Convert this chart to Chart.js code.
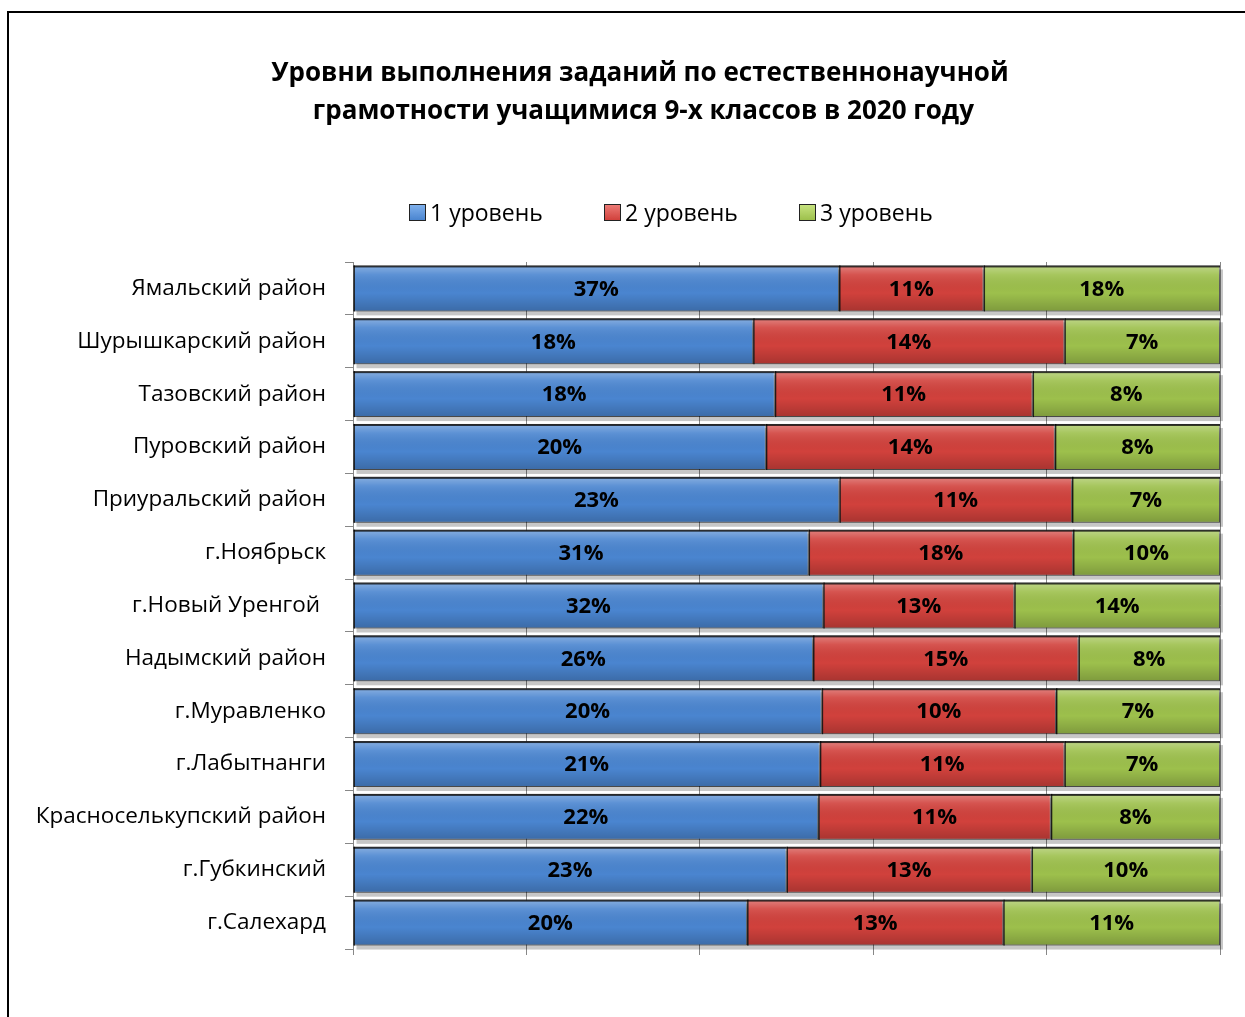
<!DOCTYPE html>
<html lang="ru">
<head>
<meta charset="utf-8">
<title>Уровни выполнения заданий</title>
<script src="https://cdn.jsdelivr.net/npm/chart.js@4.4.1/dist/chart.umd.min.js"></script>
<style>
  body { margin: 0; background: #fff; overflow: hidden; }
  #frame { position: absolute; left: 7px; top: 11px; width: 1300px; height: 1100px; border: 2px solid #000; }
  #box { position: absolute; left: 0; top: 0; width: 1280px; height: 1017px; }
  #title { position: absolute; left: 0; top: 52px; width: 1280px; text-align: center;
           font: bold 26px/38px "Open Sans", sans-serif; color: #000; white-space: pre; }
  #legend { position: absolute; top: 196px; left: 409px; display: flex; font: 23px "Open Sans", sans-serif; color: #000; }
  .item { width: 195px; display: flex; align-items: center; }
  .swatch { width: 15px; height: 15px; border: 1px solid #222; margin-right: 4px; }
</style>
</head>
<body>
<div id="frame"></div>
<div id="box"><canvas id="myChart"></canvas></div>
<div id="title"></div>
<div id="legend"></div>
<script>
'use strict';

let regions = ['Ямальский район', 'Шурышкарский район', 'Тазовский район', 'Пуровский район',
  'Приуральский район', 'г.Ноябрьск', 'г.Новый Уренгой ', 'Надымский район', 'г.Муравленко',
  'г.Лабытнанги', 'Красноселькупский район', 'г.Губкинский', 'г.Салехард'];
let level1 = [37, 18, 18, 20, 23, 31, 32, 26, 20, 21, 22, 23, 20];
let level2 = [11, 14, 11, 14, 11, 18, 13, 15, 10, 11, 11, 13, 13];
let level3 = [18, 7, 8, 8, 7, 10, 14, 8, 7, 7, 8, 10, 11];
let seriesNames = ['1 уровень', '2 уровень', '3 уровень'];
let seriesColors = ['#4a85d0', '#d1413c', '#9dc04c'];
let seriesLight = ['#7fb0ec', '#ec7a75', '#c6e27e'];
let titleLines = ['Уровни выполнения заданий по естественнонаучной', ' грамотности учащимися 9-х классов в 2020 году'];

let FONT = '"Open Sans", sans-serif';
let levels = [level1, level2, level3];

// 100% stacked: every row is scaled to its own total
function shares(values, i){
  let total = level1[i] + level2[i] + level3[i];
  return values[i] / total * 100;
}

let datasets = levels.map(function(values, k){
  return {
    label: seriesNames[k],
    data: values.map(function(v, i){ return shares(values, i); }),
    raw: values,
    backgroundColor: seriesColors[k],
    borderColor: 'rgba(0,0,0,0.55)',
    borderWidth: 1,
    borderSkipped: false,
    barPercentage: 0.87,
    categoryPercentage: 1
  };
});

document.getElementById('title').textContent = titleLines.join('\n');

// html legend
let legend = document.getElementById('legend');
for (let k = 0; k < seriesNames.length; k++){
  let item = document.createElement('div');
  item.className = 'item';
  let sw = document.createElement('span');
  sw.className = 'swatch';
  sw.style.background = 'linear-gradient(' + seriesLight[k] + ', ' + seriesColors[k] + ')';
  item.appendChild(sw);
  item.appendChild(document.createTextNode(seriesNames[k]));
  legend.appendChild(item);
}

// gray depth under each row
let shadowPlugin = {
  id: 'shadow',
  beforeDatasetsDraw(chart){
    let ctx = chart.ctx;
    let metas = chart.getSortedVisibleDatasetMetas();
    ctx.save();
    ctx.fillStyle = 'rgba(0,0,0,0.22)';
    for (let i = 0; i < regions.length; i++){
      let left = Infinity, right = -Infinity, top = 0, h = 0;
      metas.forEach(function(m){
        let el = m.data[i];
        left = Math.min(left, el.base, el.x);
        right = Math.max(right, el.base, el.x);
        top = el.y - el.height / 2;
        h = el.height;
      });
      ctx.fillRect(left + 3, top + 4, right - left, h);
    }
    ctx.restore();
  }
};

// gloss on the bars and the value labels
let bevelPlugin = {
  id: 'bevel',
  afterDatasetsDraw(chart){
    let ctx = chart.ctx;
    ctx.save();
    chart.getSortedVisibleDatasetMetas().forEach(function(m){
      let raw = chart.data.datasets[m.index].raw;
      m.data.forEach(function(el, i){
        let l = Math.min(el.base, el.x), r = Math.max(el.base, el.x);
        let t = el.y - el.height / 2, b = t + el.height;
        let g = ctx.createLinearGradient(0, t, 0, b);
        g.addColorStop(0, 'rgba(255,255,255,0.35)');
        g.addColorStop(0.2, 'rgba(255,255,255,0.1)');
        g.addColorStop(0.6, 'rgba(0,0,0,0)');
        g.addColorStop(1, 'rgba(0,0,0,0.2)');
        ctx.fillStyle = g;
        ctx.fillRect(l, t, r - l, b - t);
        ctx.fillStyle = 'rgba(0,0,0,0.75)';
        ctx.fillRect(l, t, r - l, 2);
        ctx.fillRect(l, t, 1.5, b - t);

        ctx.fillStyle = '#000';
        ctx.font = 'bold 22px ' + FONT;
        ctx.textAlign = 'center';
        ctx.textBaseline = 'middle';
        ctx.fillText(raw[i] + '%', (l + r) / 2, el.y + 1);
      });
    });
    ctx.restore();
  }
};

let ctx = document.getElementById('myChart').getContext('2d');
let myChart = new Chart(ctx, {
  type: 'bar',
  data: { labels: regions, datasets: datasets },
  options: {
    indexAxis: 'y',
    responsive: true,
    maintainAspectRatio: false,
    animation: false,
    layout: { padding: { left: 0, right: 60, top: 262, bottom: 68 } },
    scales: {
      x: {
        stacked: true,
        min: 0,
        max: 100,
        ticks: { display: false, stepSize: 20 },
        grid: { color: '#878787', drawTicks: true, tickLength: 6 },
        border: { display: false },
        afterFit(s){ s.height = 0; }
      },
      y: {
        stacked: true,
        ticks: { color: '#000', font: { family: FONT, size: 22.5 }, padding: 19 },
        grid: { drawOnChartArea: false, drawTicks: true, tickLength: 8, offset: true, color: '#878787' },
        border: { display: true, color: '#878787' },
        afterFit(s){ s.width = 353; }
      }
    },
    plugins: {
      legend: { display: false },
      tooltip: { enabled: false },
      title: { display: false }
    }
  },
  plugins: [shadowPlugin, bevelPlugin]
});
</script>
</body>
</html>
